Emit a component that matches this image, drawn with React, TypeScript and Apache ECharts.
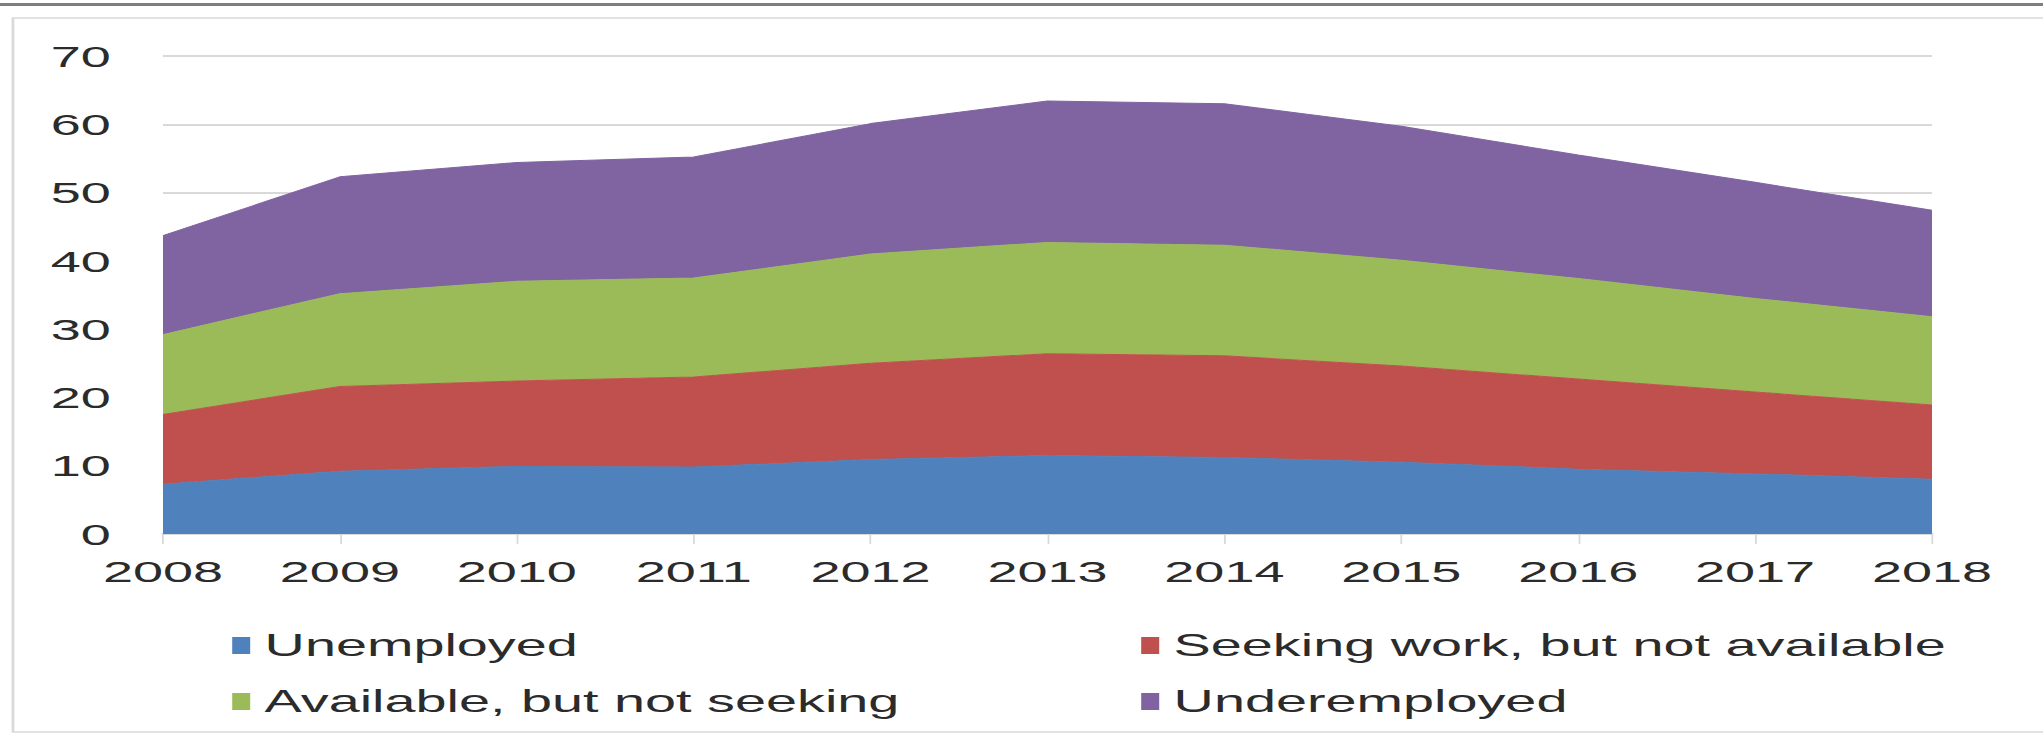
import React, { useEffect, useRef } from "react";
import * as echarts from "echarts";

const years = ["2008", "2009", "2010", "2011", "2012", "2013", "2014", "2015", "2016", "2017", "2018"];
const unemployed = [7.3, 9.2, 9.9, 9.8, 10.9, 11.5, 11.2, 10.5, 9.5, 8.8, 8.0];
const seekingNotAvailable = [10.2, 12.4, 12.5, 13.2, 14.1, 14.9, 14.9, 14.1, 13.2, 12.0, 10.9];
const availableNotSeeking = [11.7, 13.6, 14.6, 14.5, 16.0, 16.3, 16.2, 15.5, 14.7, 13.7, 12.9];
const underemployed = [14.5, 17.1, 17.4, 17.7, 19.1, 20.7, 20.7, 19.6, 18.1, 17.0, 15.6];
const seriesNames = ["Unemployed", "Seeking work, but not available", "Available, but not seeking", "Underemployed"];
const colors = ["#4f81bd", "#c0504d", "#9bbb59", "#8064a2"];

const STRETCH = 1.8;
const FULL_W = 2043;
const FULL_H = 739;
const W = FULL_W / STRETCH;
const FONT = "'Liberation Sans', Arial, sans-serif";

export default function App() {
  const ref = useRef<HTMLDivElement>(null);
  useEffect(() => {
    document.body.style.margin = "0";
    const chart = echarts.init(ref.current!, null, { renderer: "svg" });
    const values = [unemployed, seekingNotAvailable, availableNotSeeking, underemployed];
    const legendPos = [
      { left: 129, top: 630 },
      { left: 634, top: 630 },
      { left: 129, top: 686 },
      { left: 634, top: 686 },
    ];
    chart.setOption({
      animation: false,
      color: colors,
      textStyle: { fontFamily: FONT },
      grid: { left: 163 / STRETCH, right: (FULL_W - 1932) / STRETCH, top: 56, bottom: FULL_H - 534 },
      xAxis: {
        type: "category",
        data: years,
        boundaryGap: false,
        axisLine: { lineStyle: { color: "#d9d9d9", width: 2 } },
        axisTick: { length: 10, lineStyle: { color: "#d9d9d9", width: 1 } },
        axisLabel: { fontSize: 30, color: "#2b2b2b", margin: 22, fontFamily: FONT },
        splitLine: { show: false },
      },
      yAxis: {
        type: "value",
        min: 0,
        max: 70,
        interval: 10,
        axisLine: { show: false },
        axisTick: { show: false },
        axisLabel: { fontSize: 30, color: "#2b2b2b", margin: 29, fontFamily: FONT },
        splitLine: { lineStyle: { color: "#d9d9d9", width: 2 } },
      },
      legend: seriesNames.map((n, i) => ({
        data: [n],
        left: legendPos[i].left,
        top: legendPos[i].top,
        icon: "rect",
        itemWidth: 10,
        itemHeight: 17,
        padding: 0,
        selectedMode: false,
        textStyle: { fontSize: 31, color: "#2b2b2b", fontFamily: FONT, padding: [0, 0, 0, 3] },
      })),
      series: seriesNames.map((n, i) => ({
        name: n,
        type: "line",
        stack: "total",
        data: values[i],
        symbol: "none",
        lineStyle: { width: 1, color: colors[i] },
        areaStyle: { color: colors[i], opacity: 1 },
        itemStyle: { color: colors[i] },
      })),
      graphic: [
        {
          type: "line",
          shape: { x1: 0, y1: 4.5, x2: W, y2: 4.5 },
          style: { stroke: "#7f7f7f", lineWidth: 3 },
          silent: true,
        },
        {
          type: "rect",
          shape: { x: 7.2, y: 18, width: W + 10, height: 714 },
          style: { fill: "none", stroke: "#d9d9d9", lineWidth: 1.5 },
          silent: true,
        },
      ],
    });
    return () => chart.dispose();
  }, []);
  return (
    <div
      style={{
        position: "absolute",
        left: 0,
        top: 0,
        width: FULL_W,
        height: FULL_H,
        overflow: "hidden",
      }}
    >
      <div
        ref={ref}
        style={{
          width: W,
          height: FULL_H,
          transform: `scaleX(${STRETCH})`,
          transformOrigin: "0 0",
        }}
      />
    </div>
  );
}
